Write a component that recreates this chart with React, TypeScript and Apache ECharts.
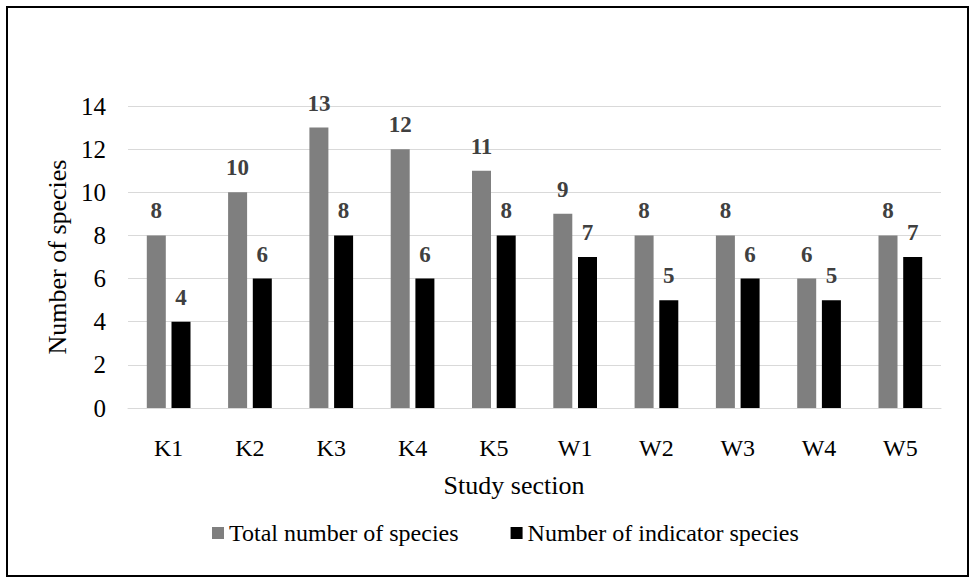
import React, { useEffect, useRef } from "react";
import * as echarts from "echarts";

const categories = ["K1", "K2", "K3", "K4", "K5", "W1", "W2", "W3", "W4", "W5"];
const totalSpecies = [8, 10, 13, 12, 11, 9, 8, 8, 6, 8];
const indicatorSpecies = [4, 6, 8, 6, 8, 7, 5, 6, 5, 7];
const seriesNames = ["Total number of species", "Number of indicator species"];
const yAxisTitle = "Number of species";
const xAxisTitle = "Study section";

const FONT = "Liberation Serif";

export default function App() {
  const ref = useRef<HTMLDivElement>(null);
  useEffect(() => {
    document.body.style.margin = "0";
    const chart = echarts.init(ref.current!, undefined, { renderer: "svg" });
    const labelStyle = {
      show: true,
      position: "top" as const,
      distance: 13,
      fontFamily: FONT,
      fontWeight: "bold" as const,
      fontSize: 23,
      color: "#404040",
    };
    chart.setOption({
      animation: false,
      backgroundColor: "#ffffff",
      textStyle: { fontFamily: FONT },
      grid: { left: 128, right: 31, top: 106, bottom: 175 },
      legend: {
        top: 521,
        left: 212,
        padding: 0,
        icon: "rect",
        itemWidth: 12,
        itemHeight: 12,
        itemGap: 52,
        textStyle: { fontFamily: FONT, fontSize: 24, color: "#000" },
        data: seriesNames,
      },
      xAxis: {
        type: "category",
        data: categories,
        axisLine: { lineStyle: { color: "#d9d9d9", width: 1 } },
        axisTick: { show: false },
        axisLabel: { margin: 28, fontFamily: FONT, fontSize: 24, color: "#000" },
      },
      yAxis: {
        type: "value",
        min: 0,
        max: 14,
        interval: 2,
        name: yAxisTitle,
        nameLocation: "middle",
        nameGap: 57,
        nameTextStyle: { fontFamily: FONT, fontSize: 26, color: "#000" },
        axisLine: { show: false },
        axisTick: { show: false },
        axisLabel: { margin: 22, fontFamily: FONT, fontSize: 25, color: "#000" },
        splitLine: { lineStyle: { color: "#d9d9d9", width: 1 } },
      },
      series: [
        {
          name: seriesNames[0],
          type: "bar",
          data: totalSpecies,
          barWidth: 19,
          barGap: "30%",
          itemStyle: { color: "#7f7f7f" },
          label: labelStyle,
        },
        {
          name: seriesNames[1],
          type: "bar",
          data: indicatorSpecies,
          barWidth: 19,
          itemStyle: { color: "#000000" },
          label: labelStyle,
        },
      ],
      graphic: [
        {
          type: "rect",
          shape: { x: 7, y: 7, width: 961, height: 569 },
          style: { fill: "none", stroke: "#000", lineWidth: 2 },
          silent: true,
        },
        {
          type: "text",
          x: 514,
          y: 485,
          style: {
            text: xAxisTitle,
            fontFamily: FONT,
            fontSize: 26,
            fill: "#000",
            textAlign: "center",
            textVerticalAlign: "middle",
          },
          silent: true,
        },
      ],
    });
    return () => chart.dispose();
  }, []);
  return <div ref={ref} style={{ width: 972, height: 583 }} />;
}
